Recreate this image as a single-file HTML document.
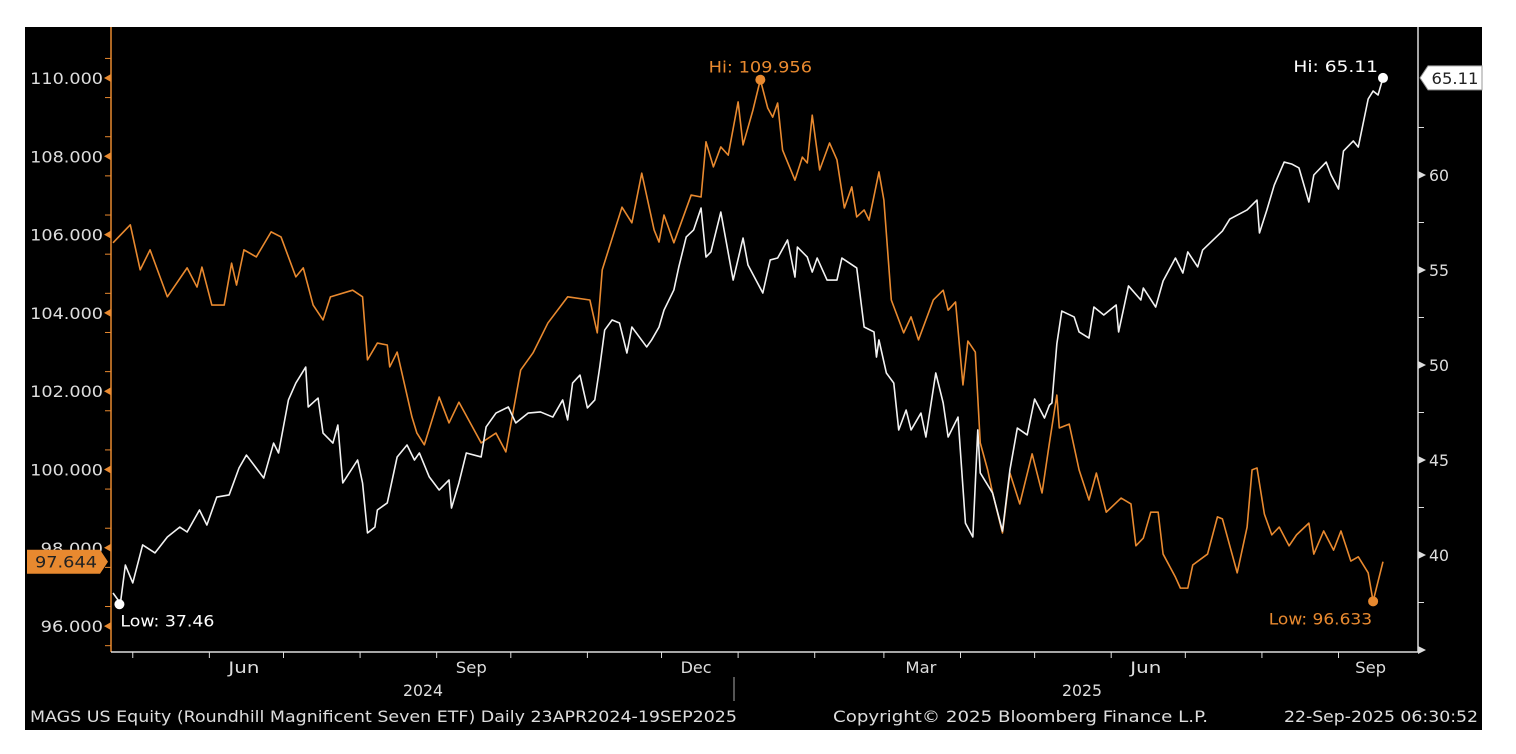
<!DOCTYPE html>
<html><head><meta charset="utf-8">
<style>
html,body{margin:0;padding:0;background:#fff;width:1516px;height:754px;overflow:hidden}
svg{display:block;font-family:"DejaVu Sans","Liberation Sans",sans-serif}
</style></head>
<body>
<svg id="chart" width="1516" height="754" viewBox="0 0 1516 754" xmlns="http://www.w3.org/2000/svg">
<rect x="25" y="27" width="1457" height="703" fill="#000"/>
<g id="axes"></g>
<g id="series"></g>
<g id="labels"></g>
</svg>
<script>
// ---- data (day offset from 23-Apr-2024) ----
const orangeDays = [0,7,11,15,22,30,34,36,40,45,48,50,53,58,64,68,74,77,81,85,88,97,101,103,107,111,112,115,121,123,126,132,136,140,149,155,159,165,170,176,184,193,196,198,206,210,214,219,221,223,227,234,238,240,243,246,249,253,255,259,262,265,267,269,271,276,279,281,283,286,290,293,296,299,301,304,306,310,312,315,320,323,326,332,336,338,341,344,346,349,351,354,356,360,363,367,372,376,379,382,383,387,391,395,398,402,408,412,414,417,420,423,425,430,432,435,437,443,447,449,455,459,461,463,466,469,472,476,479,484,486,490,494,497,501,504,508,510,514];
const orangeValues = [105.79,106.25,105.10,105.61,104.41,105.15,104.66,105.17,104.20,104.20,105.27,104.71,105.61,105.43,106.07,105.94,104.92,105.15,104.20,103.82,104.41,104.58,104.41,102.80,103.23,103.18,102.62,103.00,101.34,100.93,100.63,101.85,101.19,101.72,100.68,100.93,100.45,102.54,102.98,103.74,104.41,104.33,103.49,105.10,106.70,106.30,107.57,106.12,105.81,106.50,105.79,107.01,106.96,108.37,107.73,108.24,108.03,109.39,108.29,109.18,109.956,109.23,109.00,109.36,108.16,107.39,107.98,107.83,109.05,107.65,108.34,107.91,106.68,107.22,106.45,106.63,106.37,107.60,106.88,104.33,103.49,103.90,103.31,104.33,104.58,104.07,104.28,102.16,103.28,103.00,100.68,99.99,99.40,98.38,99.91,99.12,100.40,99.40,100.68,101.90,101.06,101.16,99.99,99.22,99.91,98.91,99.27,99.12,98.05,98.25,98.91,98.91,97.84,97.25,96.97,96.97,97.56,97.84,98.79,98.74,97.36,98.53,99.99,100.04,98.86,98.33,98.53,98.05,98.33,98.63,97.84,98.43,97.94,98.43,97.66,97.77,97.36,96.633,97.644];
const whiteDays = [0,3,5,8,12,17,22,27,30,35,38,42,47,51,54,61,65,67,71,74,78,79,83,85,89,91,93,99,101,103,106,107,111,113,115,119,122,124,128,132,136,137,140,143,149,151,155,160,163,168,173,178,182,184,186,189,192,195,197,199,202,205,208,210,216,218,221,223,227,229,232,235,238,240,242,246,251,255,257,263,266,269,273,276,277,281,283,285,289,293,295,301,304,308,309,310,313,316,318,321,323,327,329,333,336,338,342,345,348,350,351,356,360,363,366,370,373,377,379,380,382,384,389,391,395,397,401,406,407,411,416,417,422,425,430,433,435,439,441,449,452,459,463,464,467,470,474,477,480,484,486,491,493,496,498,502,504,508,510,512,514];
const whiteValues = [38.0,37.46,39.47,38.53,40.53,40.11,40.95,41.47,41.21,42.37,41.58,43.05,43.16,44.58,45.26,44.05,45.89,45.37,48.16,49.05,49.89,47.79,48.26,46.42,45.89,46.84,43.79,45.0,43.79,41.16,41.47,42.37,42.74,43.95,45.16,45.79,45.0,45.37,44.11,43.42,43.95,42.47,43.79,45.37,45.16,46.74,47.47,47.79,46.95,47.47,47.53,47.26,48.16,47.11,49.05,49.47,47.74,48.16,49.89,51.84,52.37,52.21,50.63,52.0,50.95,51.32,52.0,52.89,53.95,55.16,56.74,57.11,58.26,55.68,55.95,58.05,54.47,56.68,55.26,53.79,55.53,55.63,56.58,54.63,56.21,55.68,54.89,55.63,54.47,54.47,55.63,55.11,52.0,51.74,50.42,51.32,49.58,49.05,46.58,47.63,46.58,47.47,46.21,49.58,48.0,46.21,47.26,41.68,40.95,46.58,44.32,43.26,41.26,44.47,46.68,46.32,48.21,47.21,47.89,48.0,51.11,52.84,52.53,51.74,51.42,53.05,52.63,53.16,51.74,54.16,53.42,54.05,53.05,54.42,55.63,54.84,55.95,55.16,56.05,57.05,57.68,58.16,58.68,56.95,58.16,59.47,60.68,60.58,60.37,58.58,60.0,60.68,60.0,59.26,61.26,61.79,61.47,64.0,64.42,64.21,65.11];
const leftTicks = [96,98,100,102,104,106,108,110];
const leftTickLabels = ["96.000","98.000","100.000","102.000","104.000","106.000","108.000","110.000"];
const rightTicks = [40,45,50,55,60];
const rightTickLabels = ["40","45","50","55","60"];
const monthStartDays = [8,39,69,100,131,161,192,222,253,284,312,343,373,404,434,465,496];
const monthLabelDays = [53,145,236,327,418,509];
const monthLabels = ["Jun","Sep","Dec","Mar","Jun","Sep"];

// ---- scales ----
const X0=113, PXD=2.4708;
const xS = d => X0 + d*PXD;
const yL = v => 78 + (110-v)*39.15;
const yR = v => 175 + (60-v)*19;
const ORANGE="#e8892f";
const CW=10.5; // approx char width of reference font
const NS="http://www.w3.org/2000/svg";
function mk(tag, parent, attrs){const e=document.createElementNS(NS,tag);for(const k in attrs)e.setAttribute(k,attrs[k]);parent.appendChild(e);return e;}
function tl(e,w){e.setAttribute('textLength',w);e.setAttribute('lengthAdjust','spacingAndGlyphs');}
const axes=document.getElementById('axes'), series=document.getElementById('series'), labels=document.getElementById('labels');

// left axis
let e=mk('line',axes,{x1:111,y1:27,x2:111,y2:652,stroke:ORANGE,'stroke-width':1.5});


for(let v=95.5;v<=111;v+=1){
  const y=yL(v); if(y<28||y>650)continue;
  e=mk('line',axes,{x1:105,y1:y,x2:111,y2:y,stroke:ORANGE,'stroke-width':1});
  
  
}
leftTicks.forEach((v,i)=>{
  const y=yL(v);
  e=mk('polygon',axes,{points:`${104},${y} ${111},${y-4} ${111},${y+4}`,fill:ORANGE});
  
  
  e=mk('text',axes,{x:103,y:y+6,'text-anchor':'end','font-size':16,fill:'#ddd'});
  e.textContent=leftTickLabels[i];
  tl(e,leftTickLabels[i].length*10.4);
  
  
});
// right axis
e=mk('line',axes,{x1:1418,y1:27,x2:1418,y2:652,stroke:'#ddd','stroke-width':1.5});


for(let v=37.5;v<=65;v+=5){
  const y=yR(v);
  e=mk('line',axes,{x1:1418,y1:y,x2:1424,y2:y,stroke:'#ddd','stroke-width':1});
  
  
}
[35].concat(rightTicks).forEach(v=>{
  const y=yR(v);
  e=mk('polygon',axes,{points:`${1418},${y-4} ${1426},${y} ${1418},${y+4}`,fill:'#ddd'});
  
  
});
rightTicks.forEach((v,i)=>{
  e=mk('text',axes,{x:1429,y:yR(v)+6,'font-size':16,fill:'#ddd'});
  e.textContent=rightTickLabels[i];
  tl(e,20);
  
  
});
// x axis
e=mk('line',axes,{x1:111,y1:652,x2:1418,y2:652,stroke:'#ddd','stroke-width':1.5});


monthStartDays.forEach(d=>{
  e=mk('line',axes,{x1:xS(d),y1:652,x2:xS(d),y2:658,stroke:'#ddd','stroke-width':1});
  
  
});
monthLabelDays.forEach((d,i)=>{
  e=mk('text',axes,{x:xS(d),y:673,'text-anchor':'middle','font-size':16,fill:'#ddd'});
  e.textContent=monthLabels[i];
  tl(e,31);
  
  
});
e=mk('text',axes,{x:423,y:696,'text-anchor':'middle','font-size':16,fill:'#ddd'});e.textContent='2024';tl(e,40);


e=mk('text',axes,{x:1082,y:696,'text-anchor':'middle','font-size':16,fill:'#ddd'});e.textContent='2025';tl(e,40);


e=mk('line',axes,{x1:734,y1:677,x2:734,y2:701,stroke:'#aaa','stroke-width':1});



// series
e=mk('polyline',series,{points:orangeDays.map((d,i)=>xS(d)+','+yL(orangeValues[i])).join(' '),fill:'none',stroke:ORANGE,'stroke-width':1.6,'stroke-linejoin':'round'});


e=mk('polyline',series,{points:whiteDays.map((d,i)=>xS(d)+','+yR(whiteValues[i])).join(' '),fill:'none',stroke:'#f2f2f2','stroke-width':1.6,'stroke-linejoin':'round'});



// hi / low markers
const oMaxI=orangeValues.indexOf(Math.max(...orangeValues)), oMinI=orangeValues.indexOf(Math.min(...orangeValues));
const wMaxI=whiteValues.indexOf(Math.max(...whiteValues)), wMinI=whiteValues.indexOf(Math.min(...whiteValues));
function marker(x,y,col,name){const c=mk('circle',labels,{cx:x,cy:y,r:5,fill:col});}
function lab(x,y,txt,col,anchor,name){const t=mk('text',labels,{x:x,y:y,'font-size':16,fill:col,'text-anchor':anchor});t.textContent=txt;tl(t,txt.length*9.4);}
marker(xS(orangeDays[oMaxI]),yL(orangeValues[oMaxI]),ORANGE,'orange-hi-marker');
lab(xS(orangeDays[oMaxI]),yL(orangeValues[oMaxI])-7,'Hi: '+orangeValues[oMaxI].toFixed(3),ORANGE,'middle','orange-hi-label');
marker(xS(orangeDays[oMinI]),yL(orangeValues[oMinI]),ORANGE,'orange-low-marker');
lab(xS(orangeDays[oMinI])-1,yL(orangeValues[oMinI])+23,'Low: '+orangeValues[oMinI].toFixed(3),ORANGE,'end','orange-low-label');
marker(xS(whiteDays[wMaxI]),yR(whiteValues[wMaxI]),'#fff','white-hi-marker');
lab(xS(whiteDays[wMaxI])-5,yR(whiteValues[wMaxI])-6,'Hi: '+whiteValues[wMaxI].toFixed(2),'#fff','end','white-hi-label');
marker(xS(whiteDays[wMinI])-1,yR(whiteValues[wMinI])+1,'#fff','white-low-marker');
lab(xS(whiteDays[wMinI]),yR(whiteValues[wMinI])+23,'Low: '+whiteValues[wMinI].toFixed(2),'#fff','start','white-low-label');

// last value tags
const lastO=orangeValues[orangeValues.length-1], yo=yL(lastO);
e=mk('polygon',labels,{points:`27,${yo-12} 100,${yo-12} 108,${yo} 100,${yo+12} 27,${yo+12}`,fill:ORANGE});


e=mk('text',labels,{x:66,y:yo+6,'text-anchor':'middle','font-size':16,fill:'#222'});e.textContent=lastO.toFixed(3);tl(e,62);


const lastW=whiteValues[whiteValues.length-1], yw=yR(lastW);
e=mk('polygon',labels,{points:`1420,${yw} 1428,${yw-12} 1482,${yw-12} 1482,${yw+12} 1428,${yw+12}`,fill:'#fff',stroke:'#999','stroke-width':1});


e=mk('text',labels,{x:1455,y:yw+6,'text-anchor':'middle','font-size':16,fill:'#222'});e.textContent=lastW.toFixed(2);tl(e,47);



// footer
e=mk('text',labels,{x:30,y:722,'font-size':16,fill:'#ddd'});e.textContent='MAGS US Equity (Roundhill Magnificent Seven ETF)  Daily 23APR2024-19SEP2025';tl(e,707);


e=mk('text',labels,{x:833,y:722,'font-size':16,fill:'#ddd'});e.textContent='Copyright\u00a9 2025 Bloomberg Finance L.P.';tl(e,375);


e=mk('text',labels,{x:1284,y:722,'font-size':16,fill:'#ddd'});e.textContent='22-Sep-2025 06:30:52';tl(e,194);


</script>
</body></html>
